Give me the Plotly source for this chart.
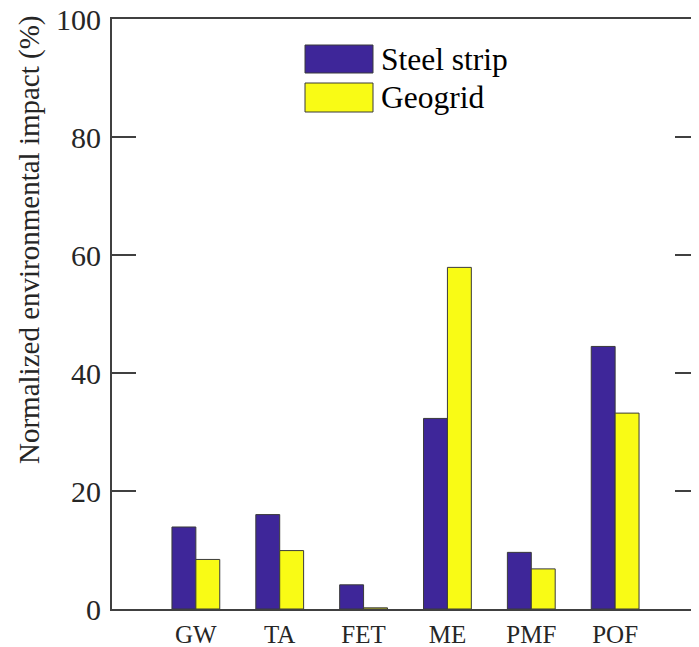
import plotly.graph_objects as go

categories = ["GW", "TA", "FET", "ME", "PMF", "POF"]
steel_strip = [13.9, 16.0, 4.1, 32.3, 9.6, 44.5]
geogrid = [8.4, 9.9, 0.2, 57.9, 6.8, 33.2]
y_ticks = [0, 20, 40, 60, 80, 100]

# page body has an 8px margin; compensate so the figure lines up with the window
OFF = 8
W, H = 699 - OFF, 647 - OFF
# plot area in window pixels: x 112..699, y 19..609
L, R, T, B = 112 - OFF, 0, 19 - OFF, 647 - 609
pw = W - L - R
ph = H - T - B

steel_color = "#3E2699"
geo_color = "#F9FB15"
edge = "#3a3a3a"
axis_col = "#404040"
font = "Liberation Serif"
txt = "#262626"

xpos = list(range(1, len(categories) + 1))

fig = go.Figure()
fig.add_trace(go.Bar(x=xpos, y=steel_strip, name="Steel strip",
                     marker=dict(color=steel_color, line=dict(color=edge, width=1))))
fig.add_trace(go.Bar(x=xpos, y=geogrid, name="Geogrid",
                     marker=dict(color=geo_color, line=dict(color=edge, width=1))))

fig.update_layout(
    width=W, height=H, autosize=False,
    margin=dict(l=L, r=R, t=T, b=B, pad=0, autoexpand=False),
    paper_bgcolor="white", plot_bgcolor="white",
    barmode="group", bargap=0.43, bargroupgap=0,
    showlegend=False,
    font=dict(family=font, color=txt),
)
fig.update_xaxes(
    range=[0, 7], tickmode="array", tickvals=xpos, ticktext=categories,
    ticks="", showgrid=False, zeroline=False, automargin=False,
    showline=True, linecolor=axis_col, linewidth=2, mirror=True,
    tickfont=dict(size=25, family=font, color=txt), ticklabelstandoff=2,
    ticklabeloverflow="allow",
)
fig.update_yaxes(
    range=[0, 100], tickmode="array", tickvals=y_ticks,
    ticks="inside", ticklen=24, tickwidth=2, tickcolor=axis_col,
    showgrid=False, zeroline=False, automargin=False,
    showline=True, linecolor=axis_col, linewidth=2, mirror="ticks",
    tickfont=dict(size=30, family=font, color=txt), ticklabelstandoff=3,
    ticklabeloverflow="allow",
)

def px_x(x):
    # x in reference window pixels -> paper coords
    return (x - OFF - L) / pw

def px_y(y):
    return (H - B - (y - OFF)) / ph

# y-axis title
fig.add_annotation(
    text="Normalized environmental impact (%)", textangle=-90,
    xref="paper", yref="paper", x=px_x(29), y=px_y(240),
    xanchor="center", yanchor="middle", showarrow=False,
    font=dict(size=29, family=font, color=txt),
)

# legend drawn with patches and labels
legend_items = [("Steel strip", steel_color, 45, 73), ("Geogrid", geo_color, 83, 112)]
for label, col, y0, y1 in legend_items:
    fig.add_shape(type="rect", xref="paper", yref="paper",
                  x0=px_x(305), x1=px_x(373), y0=px_y(y1), y1=px_y(y0),
                  fillcolor=col, line=dict(color=edge, width=1))
    fig.add_annotation(text=label, xref="paper", yref="paper",
                       x=px_x(379), y=px_y((y0 + y1) / 2),
                       xanchor="left", yanchor="middle", showarrow=False,
                       font=dict(size=31.5, family=font, color="black"))

fig.write_html("out.html")
